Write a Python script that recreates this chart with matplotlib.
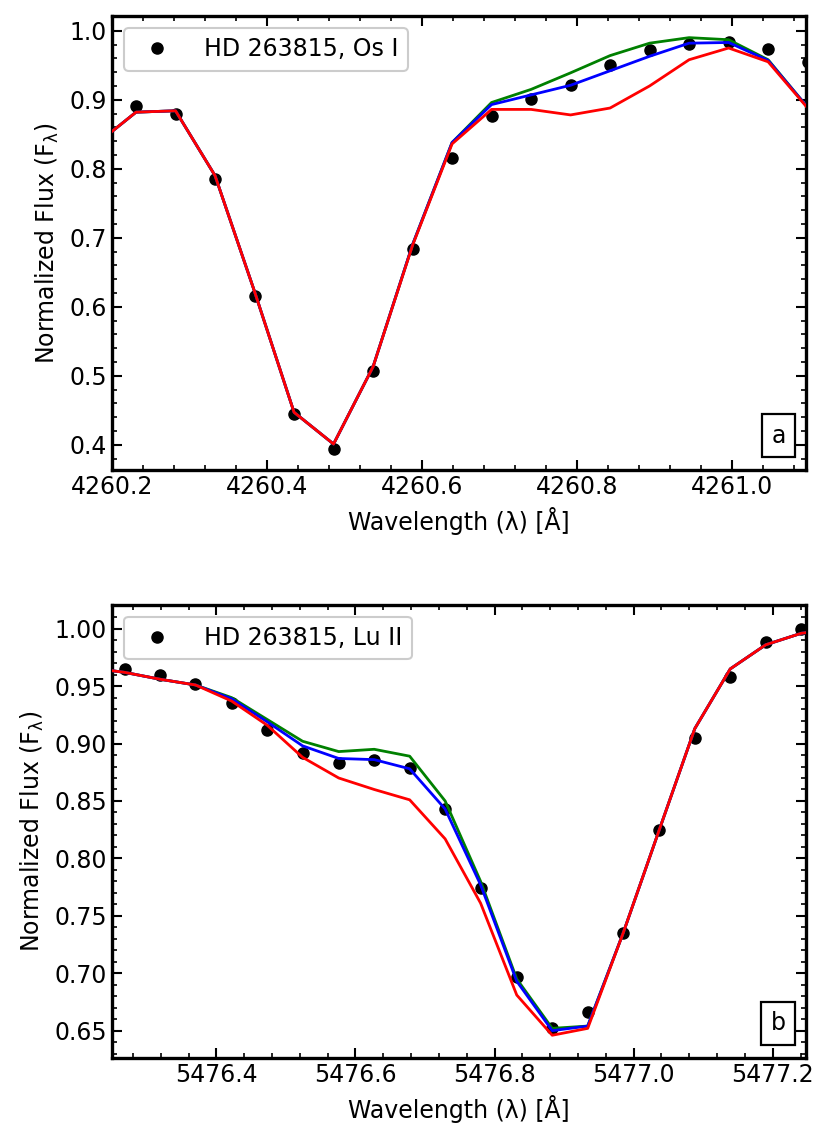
import matplotlib
matplotlib.use("Agg")
import matplotlib.pyplot as plt
from matplotlib.ticker import AutoMinorLocator, MultipleLocator

# ---- Panel a: Os I ----
wl_a = [4260.231, 4260.282, 4260.333, 4260.384, 4260.435, 4260.486, 4260.537,
        4260.588, 4260.639, 4260.690, 4260.741, 4260.792, 4260.843, 4260.894,
        4260.945, 4260.996, 4261.047, 4261.098]
obs_a = [0.891, 0.880, 0.785, 0.615, 0.444, 0.394, 0.507, 0.684, 0.815, 0.876,
         0.901, 0.922, 0.950, 0.972, 0.981, 0.984, 0.973, 0.954]
mwl_a = [4260.180] + wl_a
green_a = [0.836, 0.882, 0.884, 0.790, 0.622, 0.447, 0.401, 0.513, 0.690, 0.838,
           0.896, 0.915, 0.939, 0.964, 0.982, 0.990, 0.987, 0.958, 0.889]
blue_a = [0.836, 0.882, 0.884, 0.790, 0.622, 0.447, 0.401, 0.513, 0.690, 0.838,
          0.893, 0.907, 0.921, 0.942, 0.963, 0.982, 0.983, 0.957, 0.889]
red_a = [0.836, 0.882, 0.884, 0.790, 0.622, 0.447, 0.401, 0.513, 0.689, 0.836,
         0.886, 0.886, 0.878, 0.888, 0.920, 0.958, 0.975, 0.955, 0.888]

# ---- Panel b: Lu II ----
wl_b = [5476.268, 5476.319, 5476.370, 5476.422, 5476.473, 5476.524, 5476.576,
        5476.627, 5476.678, 5476.729, 5476.780, 5476.832, 5476.883, 5476.934,
        5476.985, 5477.037, 5477.088, 5477.139, 5477.190, 5477.241]
obs_b = [0.965, 0.960, 0.952, 0.935, 0.912, 0.892, 0.883, 0.886, 0.879, 0.843,
         0.774, 0.697, 0.652, 0.666, 0.735, 0.825, 0.905, 0.958, 0.988, 1.000]
mwl_b = [5476.217] + wl_b + [5477.292]
green_b = [0.966, 0.962, 0.956, 0.951, 0.940, 0.921, 0.902, 0.893, 0.895, 0.889,
           0.850, 0.780, 0.695, 0.652, 0.654, 0.735, 0.825, 0.913, 0.965, 0.986,
           0.996, 1.000]
blue_b = [0.966, 0.962, 0.956, 0.951, 0.939, 0.919, 0.898, 0.887, 0.886, 0.878,
          0.843, 0.777, 0.693, 0.650, 0.654, 0.735, 0.825, 0.913, 0.965, 0.986,
          0.996, 1.000]
red_b = [0.966, 0.962, 0.956, 0.951, 0.937, 0.916, 0.888, 0.870, 0.860, 0.851,
         0.817, 0.761, 0.681, 0.646, 0.652, 0.735, 0.825, 0.913, 0.965, 0.986,
         0.996, 1.000]

labels = ["HD 263815, Os I", "HD 263815, Lu II"]
panel_tags = ["a", "b"]
xlims = [(4260.2, 4261.096), (5476.25, 5477.248)]
ylims = [(0.3633, 1.0213), (0.6265, 1.0209)]
ymaj = [0.1, 0.05]
ymin_ = [0.02, 0.01]

fig = plt.figure(figsize=(8.31, 11.47), dpi=100)
ax1 = fig.add_axes([0.1348, 0.5902, 0.9700 - 0.1348, 0.986 - 0.5902])
ax2 = fig.add_axes([0.1348, 0.0779, 0.9700 - 0.1348, 0.4728 - 0.0779])

datasets = [
    (ax1, wl_a, obs_a, mwl_a, green_a, blue_a, red_a),
    (ax2, wl_b, obs_b, mwl_b, green_b, blue_b, red_b),
]

FS = 17
for i, (ax, wl, obs, mwl, g, b, r) in enumerate(datasets):
    ax.plot(wl, obs, 'o', color='black', markersize=8, label=labels[i], zorder=2)
    ax.plot(mwl, g, color='green', lw=2, zorder=3)
    ax.plot(mwl, b, color='blue', lw=2, zorder=4)
    ax.plot(mwl, r, color='red', lw=2, zorder=5)
    ax.set_xlim(*xlims[i])
    ax.set_ylim(*ylims[i])
    ax.xaxis.set_major_locator(MultipleLocator(0.2))
    ax.xaxis.set_minor_locator(AutoMinorLocator(5))
    ax.yaxis.set_major_locator(MultipleLocator(ymaj[i]))
    ax.yaxis.set_minor_locator(MultipleLocator(ymin_[i]))
    ax.tick_params(which='both', direction='in', top=True, right=True,
                   labelsize=FS)
    ax.tick_params(which='major', length=7, width=1.5)
    ax.tick_params(which='minor', length=3.5, width=1.2)
    for sp in ax.spines.values():
        sp.set_linewidth(2.4)
    ax.set_xlabel('Wavelength (λ) [Å]', fontsize=FS, labelpad=6)
    ax.set_ylabel(r'Normalized Flux (F$_{\mathrm{\lambda}}$)', fontsize=FS,
                  labelpad=6)
    leg = ax.legend(loc='upper left', fontsize=FS, numpoints=1,
                    handletextpad=1.0, fancybox=True, framealpha=1.0)
    leg.get_frame().set_edgecolor('#cccccc')
    leg.get_frame().set_linewidth(1.5)
    ax.text(0.9706, 0.049, panel_tags[i], transform=ax.transAxes,
            ha='right', va='bottom', fontsize=FS,
            bbox=dict(boxstyle='square,pad=0.4', fc='white', ec='black', lw=1.6),
            zorder=10)

fig.savefig('out.png', dpi=100)
